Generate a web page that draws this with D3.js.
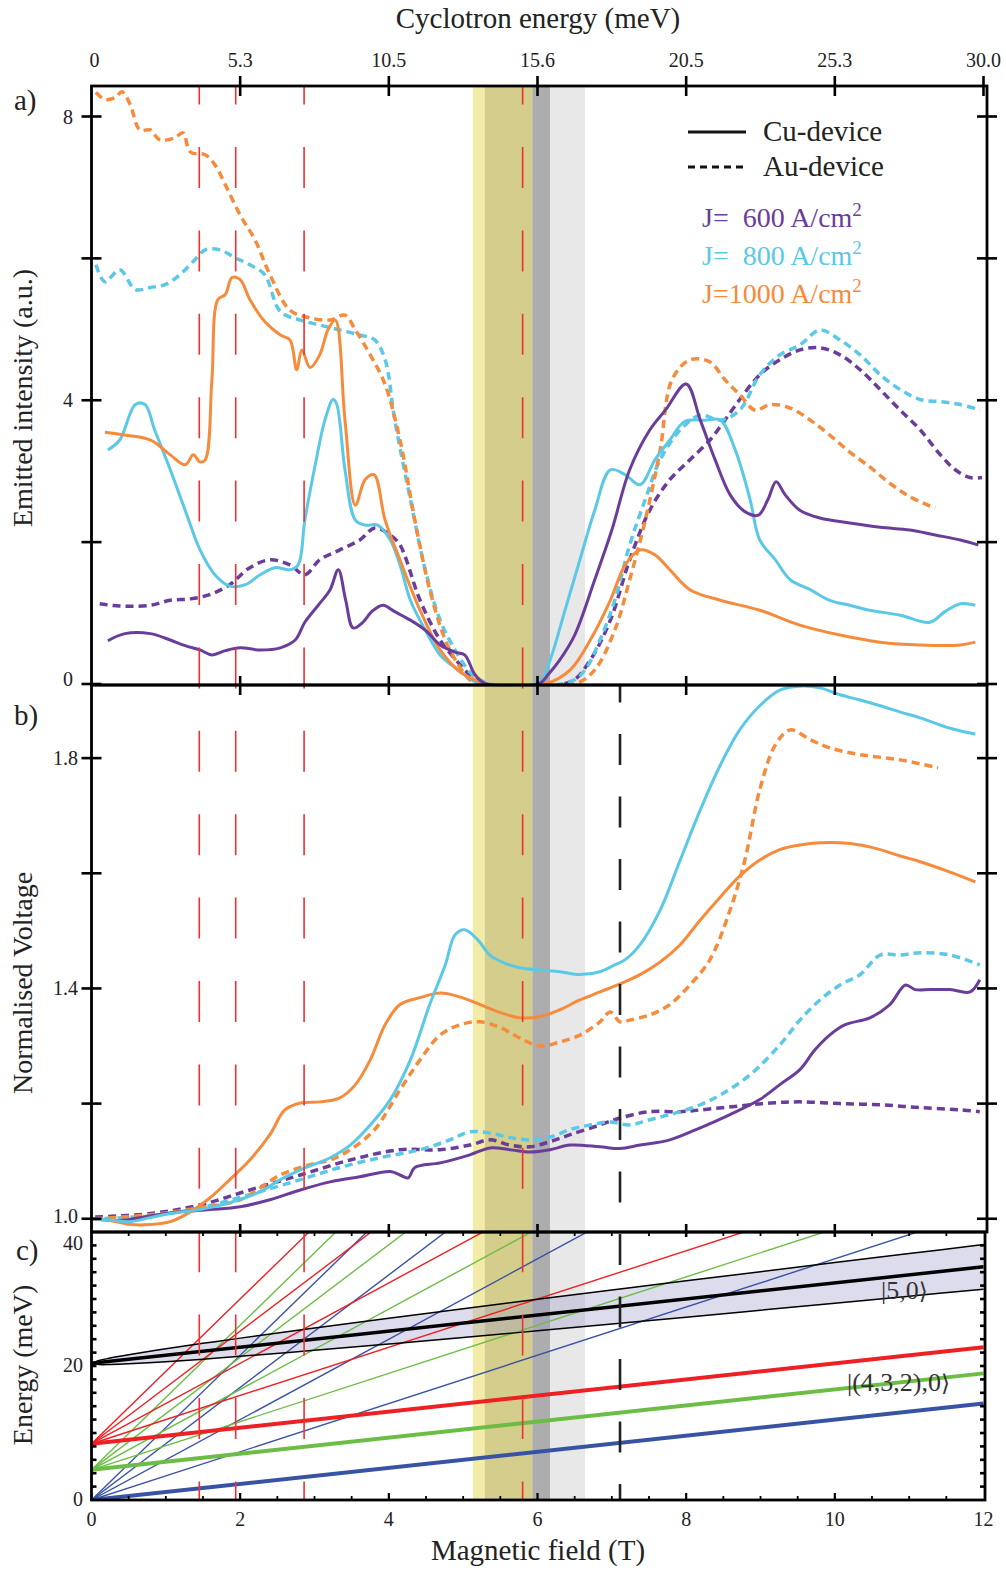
<!DOCTYPE html>
<html>
<head>
<meta charset="utf-8">
<script src="https://cdn.jsdelivr.net/npm/d3@7"></script>
<style>
body { margin: 0; background: #fff; }
text { font-family: "Liberation Serif", "Times New Roman", "DejaVu Serif", serif; fill: #222; }
</style>
</head>
<body>
<div id="chart"></div>
<script>
// ---- data (B in tesla) ----
// panel a: emitted intensity (a.u.)
var cu600_a = [[0.22,0.61],[0.45,0.71],[0.79,0.71],[1.06,0.62],[1.26,0.54],[1.46,0.48],[1.62,0.41],[1.80,0.47],[2.00,0.51],[2.27,0.48],[2.54,0.51],[2.74,0.62],[2.87,0.87],[3.05,1.11],[3.21,1.33],[3.32,1.61],[3.42,1.18],[3.52,0.79],[3.65,0.87],[3.77,1.02],[3.92,1.11],[4.08,1.02],[4.29,0.90],[4.49,0.76],[4.69,0.55],[4.89,0.45],[5.02,0.41],[5.16,0.13],[5.29,0.01],[6.03,0.01],[6.14,0.13],[6.30,0.34],[6.50,0.69],[6.77,1.47],[7.00,2.17],[7.24,3.02],[7.51,3.58],[7.72,3.86],[8.00,4.23],[8.19,3.72],[8.39,3.16],[8.59,2.67],[8.79,2.43],[8.97,2.38],[9.10,2.60],[9.21,2.85],[9.33,2.67],[9.53,2.45],[9.80,2.34],[10.20,2.27],[10.61,2.21],[11.01,2.17],[11.35,2.10],[11.69,2.03],[11.93,1.96]];
var au600_a = [[0.11,1.13],[0.38,1.10],[0.79,1.11],[1.06,1.18],[1.33,1.20],[1.59,1.26],[1.86,1.40],[2.13,1.64],[2.40,1.75],[2.67,1.68],[2.87,1.54],[3.07,1.75],[3.34,1.89],[3.61,2.03],[3.81,2.20],[4.02,2.10],[4.15,1.96],[4.42,1.18],[4.69,0.62],[4.96,0.27],[5.16,0.06],[5.29,0],[6.44,0.03],[6.71,0.34],[6.98,0.90],[7.24,1.75],[7.51,2.45],[7.78,2.88],[8.05,3.16],[8.32,3.44],[8.52,3.72],[8.72,4.01],[8.99,4.36],[9.26,4.57],[9.53,4.71],[9.80,4.74],[10.07,4.64],[10.34,4.43],[10.61,4.15],[10.88,3.86],[11.15,3.58],[11.42,3.23],[11.62,3.02],[11.82,2.91],[11.98,2.91]];
var cu800_a = [[0.22,3.30],[0.38,3.44],[0.59,3.94],[0.72,3.94],[0.85,3.58],[1.06,3.02],[1.26,2.45],[1.46,1.89],[1.66,1.54],[1.86,1.38],[2.07,1.40],[2.27,1.54],[2.47,1.64],[2.67,1.61],[2.78,1.68],[2.87,2.31],[3.01,3.09],[3.14,3.72],[3.25,4.01],[3.30,3.94],[3.41,3.02],[3.55,2.31],[3.68,2.24],[3.85,2.24],[4.02,2.03],[4.15,1.68],[4.29,1.18],[4.49,0.76],[4.69,0.41],[4.89,0.23],[5.09,0.08],[5.23,0],[6.03,0.03],[6.17,0.34],[6.37,1.04],[6.57,1.75],[6.77,2.45],[6.98,3.02],[7.18,2.95],[7.38,2.81],[7.58,3.16],[7.78,3.44],[7.98,3.70],[8.26,3.72],[8.46,3.72],[8.66,3.30],[8.86,2.60],[8.99,2.03],[9.20,1.75],[9.40,1.47],[9.67,1.33],[9.93,1.18],[10.20,1.11],[10.47,1.04],[10.88,0.97],[11.28,0.87],[11.48,1.02],[11.69,1.13],[11.89,1.11]];
var au800_a = [[0.06,5.91],[0.18,5.67],[0.38,5.84],[0.59,5.56],[0.79,5.59],[0.99,5.63],[1.19,5.77],[1.39,5.98],[1.53,6.12],[1.73,6.12],[1.93,6.01],[2.13,5.91],[2.33,5.77],[2.54,5.25],[2.81,5.13],[3.07,5.06],[3.34,4.99],[3.61,4.92],[3.81,4.85],[3.95,4.57],[4.08,3.72],[4.29,2.60],[4.49,1.61],[4.69,0.90],[4.89,0.48],[5.09,0.17],[5.23,0.06],[5.36,0],[6.44,0.03],[6.64,0.20],[6.84,0.62],[7.04,1.18],[7.24,1.96],[7.45,2.60],[7.65,3.16],[7.92,3.58],[8.19,3.79],[8.46,3.72],[8.72,3.86],[8.99,4.36],[9.26,4.64],[9.53,4.78],[9.80,4.99],[10.07,4.85],[10.34,4.64],[10.61,4.36],[10.88,4.15],[11.15,4.01],[11.42,3.98],[11.69,3.94],[11.95,3.86]];
var cu1000_a = [[0.18,3.55],[0.45,3.51],[0.79,3.44],[1.06,3.23],[1.26,3.09],[1.37,3.23],[1.46,3.13],[1.53,3.16],[1.62,4.29],[1.70,5.42],[1.80,5.49],[1.89,5.73],[2.00,5.70],[2.13,5.42],[2.33,5.11],[2.54,4.92],[2.67,4.85],[2.76,4.43],[2.83,4.71],[2.94,4.46],[3.07,4.64],[3.18,4.99],[3.28,5.13],[3.41,3.72],[3.55,2.52],[3.68,2.88],[3.80,2.95],[3.95,2.31],[4.15,1.75],[4.42,1.04],[4.69,0.48],[4.96,0.17],[5.16,0.06],[5.29,0],[6.10,0],[6.44,0.20],[6.71,0.62],[6.98,1.18],[7.18,1.68],[7.38,1.89],[7.58,1.82],[7.78,1.61],[8.05,1.33],[8.46,1.18],[8.99,1.04],[9.53,0.83],[10.07,0.69],[10.61,0.59],[11.15,0.55],[11.69,0.55],[11.89,0.59]];
var au1000_a = [[0.06,8.34],[0.18,8.24],[0.32,8.27],[0.41,8.35],[0.52,8.17],[0.65,7.81],[0.79,7.81],[0.92,7.67],[1.12,7.70],[1.23,7.77],[1.33,7.50],[1.53,7.46],[1.66,7.32],[1.80,7.04],[2.00,6.61],[2.20,6.26],[2.40,5.77],[2.67,5.27],[2.94,5.16],[3.21,5.13],[3.41,5.20],[3.55,4.99],[3.75,4.64],[3.95,4.22],[4.15,3.44],[4.35,2.31],[4.55,1.33],[4.76,0.62],[4.96,0.23],[5.09,0.06],[5.23,0],[6.50,0],[6.77,0.20],[7.04,0.76],[7.24,1.47],[7.45,2.31],[7.65,3.30],[7.81,4.29],[8.05,4.57],[8.32,4.54],[8.52,4.29],[8.72,4.08],[8.93,3.86],[9.13,3.94],[9.40,3.89],[9.67,3.72],[9.93,3.51],[10.20,3.27],[10.47,3.06],[10.74,2.83],[11.01,2.64],[11.35,2.48]];

// panel b: normalised voltage
var cu800_b = [[0,1.000],[0.25,0.998],[0.52,0.995],[0.79,1.002],[1.06,1.009],[1.46,1.016],[1.86,1.028],[2.27,1.047],[2.54,1.068],[2.81,1.085],[3.21,1.106],[3.48,1.128],[3.75,1.163],[4.02,1.207],[4.29,1.276],[4.55,1.372],[4.76,1.441],[4.89,1.493],[5.02,1.502],[5.20,1.484],[5.36,1.458],[5.56,1.444],[5.76,1.436],[6.03,1.432],[6.30,1.429],[6.57,1.424],[6.84,1.429],[7.04,1.441],[7.18,1.450],[7.38,1.476],[7.65,1.536],[7.92,1.623],[8.19,1.710],[8.46,1.788],[8.72,1.849],[8.99,1.891],[9.26,1.918],[9.53,1.925],[9.80,1.922],[10.07,1.910],[10.34,1.901],[10.61,1.891],[10.88,1.880],[11.15,1.870],[11.55,1.852],[11.89,1.842]];
var cu1000_b = [[0,1.000],[0.25,0.997],[0.52,0.990],[0.79,0.990],[1.06,0.995],[1.33,1.012],[1.59,1.036],[1.86,1.068],[2.13,1.102],[2.40,1.146],[2.60,1.189],[2.81,1.201],[3.07,1.203],[3.34,1.210],[3.55,1.233],[3.75,1.276],[3.95,1.337],[4.15,1.372],[4.42,1.384],[4.69,1.392],[4.96,1.385],[5.23,1.372],[5.50,1.358],[5.76,1.349],[6.03,1.351],[6.30,1.363],[6.57,1.380],[6.84,1.394],[7.11,1.408],[7.38,1.424],[7.65,1.446],[7.92,1.476],[8.19,1.519],[8.46,1.559],[8.72,1.595],[8.99,1.623],[9.26,1.641],[9.53,1.649],[9.80,1.653],[10.07,1.653],[10.34,1.649],[10.61,1.641],[10.88,1.630],[11.15,1.620],[11.55,1.602],[11.89,1.585]];
var au1000_b = [[0.05,1.000],[0.79,1.007],[1.46,1.019],[2.00,1.033],[2.54,1.076],[2.94,1.094],[3.21,1.102],[3.48,1.120],[3.81,1.155],[4.15,1.224],[4.42,1.276],[4.69,1.319],[4.96,1.337],[5.23,1.342],[5.50,1.332],[5.76,1.314],[6.03,1.300],[6.30,1.307],[6.57,1.319],[6.84,1.342],[6.98,1.359],[7.11,1.342],[7.24,1.345],[7.51,1.354],[7.78,1.372],[8.05,1.406],[8.32,1.450],[8.59,1.536],[8.79,1.623],[8.99,1.745],[9.20,1.823],[9.40,1.849],[9.67,1.832],[9.93,1.818],[10.34,1.806],[10.88,1.797],[11.39,1.783]];
var au800_b = [[0,1.000],[0.79,1.005],[1.46,1.019],[2.13,1.042],[2.81,1.068],[3.34,1.089],[3.88,1.106],[4.42,1.120],[4.82,1.137],[5.09,1.151],[5.36,1.149],[5.63,1.141],[5.90,1.137],[6.17,1.142],[6.44,1.155],[6.71,1.163],[6.98,1.168],[7.24,1.163],[7.51,1.172],[7.92,1.186],[8.19,1.198],[8.46,1.215],[8.86,1.250],[9.26,1.302],[9.53,1.345],[9.80,1.380],[10.07,1.406],[10.34,1.424],[10.61,1.458],[10.88,1.458],[11.15,1.462],[11.55,1.458],[11.95,1.441]];
var au600_b = [[0.05,1.003],[0.79,1.009],[1.46,1.024],[2.13,1.050],[2.81,1.076],[3.48,1.102],[4.15,1.120],[4.69,1.120],[5.09,1.128],[5.36,1.137],[5.63,1.128],[5.90,1.125],[6.17,1.134],[6.44,1.146],[6.84,1.163],[7.11,1.175],[7.51,1.186],[7.92,1.186],[8.19,1.189],[8.72,1.196],[9.13,1.201],[9.53,1.203],[10.07,1.200],[10.61,1.198],[11.15,1.193],[11.69,1.189],[11.95,1.186]];
var cu600_b = [[0,1.000],[0.38,0.997],[0.79,1.005],[1.19,1.012],[1.59,1.016],[2.00,1.021],[2.40,1.033],[2.81,1.050],[3.21,1.064],[3.61,1.073],[4.02,1.082],[4.15,1.076],[4.26,1.071],[4.35,1.089],[4.69,1.097],[5.09,1.111],[5.36,1.123],[5.63,1.120],[5.90,1.116],[6.17,1.120],[6.44,1.128],[6.84,1.125],[7.11,1.122],[7.38,1.128],[7.78,1.137],[8.19,1.158],[8.59,1.181],[8.99,1.207],[9.26,1.233],[9.53,1.259],[9.73,1.293],[9.93,1.319],[10.14,1.337],[10.47,1.349],[10.74,1.372],[10.95,1.406],[11.08,1.398],[11.28,1.398],[11.55,1.398],[11.82,1.394],[11.95,1.415]];

// panel c: level fan (meV)
var levelOrigins = [0, 4.5, 8.4];          // blue, green, red
var fanSlopes = [3.6, 6.0, 8.4, 10.8];      // meV/T
var baseSlope = 1.2;
var level50 = 20.4;
var bandB =     [0, 0.1, 0.25, 0.5, 1, 1.5, 2, 3, 4, 5, 6, 7, 8, 9, 10, 11, 12];
var bandUpper = [20.4, 20.82, 21.18, 21.68, 22.56, 23.38, 24.16, 25.66, 27.12, 28.55, 29.95, 31.34, 32.72, 34.08, 35.44, 36.78, 38.13];
var bandLower = [20.4, 20.22, 20.22, 20.32, 20.64, 21.02, 21.44, 22.34, 23.28, 24.25, 25.25, 26.26, 27.28, 28.32, 29.36, 30.42, 31.47];

// shaded field ranges and marker lines
var shades = [[5.13, 5.29, "#f2eca8"], [5.29, 5.93, "#d4cd8b"], [5.93, 6.17, "#adadad"], [6.17, 6.64, "#e8e8e8"]];
var redMarks = [1.45, 1.94, 2.86, 5.80];
var blackMark = 7.11;

// tick labels
var cycPos = [0, 2, 4, 6, 8, 10, 12];
var cycLabels = ["0", "5.3", "10.5", "15.6", "20.5", "25.3", "30.0"];

var purple = "#6a3d9a", cyan = "#5bc8e6", orange = "#f68b3c";
var cBlue = "#3953a4", cGreen = "#6cbd45", cRed = "#ed2024";

var W = 1006, H = 1571;
var svg = d3.select("#chart").append("svg").attr("width", W).attr("height", H);

var x = d3.scaleLinear().domain([0, 12]).range([91.5, 983.5]);
var ya = d3.scaleLinear().domain([0, 8.43]).range([684, 86]);
var yb = d3.scaleLinear().domain([0.977, 1.927]).range([1232, 685]);
var yc = d3.scaleLinear().domain([0, 40]).range([1500, 1232]);
var xl = 91.5, xr = 987;
var topA = 86, botA = 685, botB = 1232, botC = 1500;

// clip paths
var defs = svg.append("defs");
[["clipA", topA, botA], ["clipB", botA, botB], ["clipC", botB, botC]].forEach(function(c) {
  defs.append("clipPath").attr("id", c[0]).append("rect")
    .attr("x", xl).attr("y", c[1]).attr("width", xr - xl).attr("height", c[2] - c[1]);
});

// vertical shaded bands
svg.selectAll(".shade").data(shades).enter().append("rect")
  .attr("x", function(d) { return x(d[0]); })
  .attr("width", function(d) { return x(d[1]) - x(d[0]); })
  .attr("y", topA).attr("height", botC - topA)
  .attr("fill", function(d) { return d[2]; });

// ---- panel c ----
var gc = svg.append("g").attr("clip-path", "url(#clipC)");

var band = d3.area()
  .x(function(d, i) { return x(bandB[i]); })
  .y0(function(d, i) { return yc(bandLower[i]); })
  .y1(function(d, i) { return yc(bandUpper[i]); })
  .curve(d3.curveCatmullRom);
gc.append("path").datum(bandB).attr("d", band)
  .attr("fill", "#9a9ac8").attr("fill-opacity", 0.35);

var fanColors = [cBlue, cGreen, cRed];
levelOrigins.forEach(function(e0, k) {
  fanSlopes.forEach(function(s) {
    gc.append("line")
      .attr("x1", x(0)).attr("y1", yc(e0))
      .attr("x2", x(12)).attr("y2", yc(e0 + s * 12))
      .attr("stroke", fanColors[k]).attr("stroke-width", 1.4);
  });
});

var edge = function(arr) {
  return d3.line().x(function(d, i) { return x(bandB[i]); })
    .y(function(d, i) { return yc(arr[i]); }).curve(d3.curveCatmullRom);
};
gc.append("path").datum(bandB).attr("d", edge(bandUpper)).attr("fill", "none").attr("stroke", "#000").attr("stroke-width", 1.5);
gc.append("path").datum(bandB).attr("d", edge(bandLower)).attr("fill", "none").attr("stroke", "#000").attr("stroke-width", 1.5);

levelOrigins.forEach(function(e0, k) {
  gc.append("line")
    .attr("x1", x(0)).attr("y1", yc(e0))
    .attr("x2", x(12)).attr("y2", yc(e0 + baseSlope * 12))
    .attr("stroke", fanColors[k]).attr("stroke-width", 4);
});
gc.append("line")
  .attr("x1", x(0)).attr("y1", yc(level50))
  .attr("x2", x(12)).attr("y2", yc(level50 + baseSlope * 12))
  .attr("stroke", "#000").attr("stroke-width", 3.5);

function ketLabel(xp, yp, body) {
  var t = svg.append("text").attr("x", xp).attr("y", yp).attr("font-size", 26).style("fill", "#333").text(body);
  t.append("tspan").style("font-family", "'DejaVu Serif', 'DejaVu Sans'").attr("font-size", 23).text("\u27E9");
}
ketLabel(881, 1299, "|5,0");
ketLabel(847, 1391, "|(4,3,2),0");

// ---- curves ----
function drawSeries(clip, yScale, data, color, dashed) {
  var line = d3.line()
    .x(function(d) { return x(d[0]); })
    .y(function(d) { return yScale(d[1]); })
    .curve(d3.curveCatmullRom);
  svg.append("path").datum(data)
    .attr("clip-path", "url(#" + clip + ")")
    .attr("d", line)
    .attr("fill", "none")
    .attr("stroke", color)
    .attr("stroke-width", dashed ? 3.5 : 3)
    .attr("stroke-dasharray", dashed ? "8,5" : null)
    .attr("stroke-linejoin", "round");
}
drawSeries("clipA", ya, au600_a, purple, true);
drawSeries("clipA", ya, au800_a, cyan, true);
drawSeries("clipA", ya, au1000_a, orange, true);
drawSeries("clipA", ya, cu800_a, cyan, false);
drawSeries("clipA", ya, cu1000_a, orange, false);
drawSeries("clipA", ya, cu600_a, purple, false);

drawSeries("clipB", yb, au600_b, purple, true);
drawSeries("clipB", yb, au800_b, cyan, true);
drawSeries("clipB", yb, au1000_b, orange, true);
drawSeries("clipB", yb, cu600_b, purple, false);
drawSeries("clipB", yb, cu1000_b, orange, false);
drawSeries("clipB", yb, cu800_b, cyan, false);

// marker lines
svg.selectAll(".redmark").data(redMarks).enter().append("line")
  .attr("x1", function(d) { return x(d); }).attr("x2", function(d) { return x(d); })
  .attr("y1", topA).attr("y2", botC)
  .attr("stroke", "#ee3030").attr("stroke-width", 1.6)
  .attr("stroke-dasharray", "41,42.4").attr("stroke-dashoffset", 22.4);
svg.append("line")
  .attr("x1", x(blackMark)).attr("x2", x(blackMark))
  .attr("y1", botA).attr("y2", botC)
  .attr("stroke", "#222").attr("stroke-width", 2.6)
  .attr("stroke-dasharray", "31,31.5").attr("stroke-dashoffset", 13.5);

// ---- frames and ticks ----
var frame = svg.append("g").attr("fill", "none").attr("stroke", "#000").attr("stroke-width", 2.8);
frame.append("rect").attr("x", xl).attr("y", topA).attr("width", xr - xl).attr("height", botA - topA);
frame.append("rect").attr("x", xl).attr("y", botA).attr("width", xr - xl).attr("height", botB - botA);
frame.append("rect").attr("x", xl).attr("y", botB).attr("width", xr - 2 - xl).attr("height", botC - botB);

var tk = svg.append("g").attr("stroke", "#000").attr("stroke-width", 2.6);
function hTicks(vals, scale, x1, x2) {
  tk.selectAll(null).data(vals).enter().append("line")
    .attr("x1", x1).attr("x2", x2)
    .attr("y1", function(d) { return scale(d); }).attr("y2", function(d) { return scale(d); });
}
function vTicks(vals, y1, y2, w) {
  tk.selectAll(null).data(vals).enter().append("line")
    .attr("y1", y1).attr("y2", y2).attr("stroke-width", w || 2.6)
    .attr("x1", function(d) { return x(d); }).attr("x2", function(d) { return x(d); });
}
hTicks([0, 2, 4, 6, 8], ya, xl - 10, xl + 10);
hTicks([0, 2, 4, 6, 8], ya, xr - 10, xr + 10);
hTicks([1.0, 1.2, 1.4, 1.6, 1.8], yb, xl - 10, xl + 10);
hTicks([1.0, 1.2, 1.4, 1.6, 1.8], yb, xr - 10, xr + 10);
var eTicks = d3.range(2, 40, 2);
hTicks(eTicks, yc, xl, xl + 5);
hTicks(eTicks, yc, xr - 7, xr - 2);
vTicks([2, 4, 6, 8, 10, 12], topA - 10, topA + 10);
vTicks([2, 4, 6, 8, 10], botA - 9, botA + 10);
vTicks([2, 4, 6, 8, 10], botB - 8, botB + 5);
var minorB = d3.range(0.5, 12, 0.5).filter(function(d) { return d % 2 !== 0; });
vTicks(minorB, botB, botB + 4, 1.8);
vTicks(minorB, botC - 4, botC, 1.8);
vTicks([2, 4, 6, 8, 10], botC - 7, botC, 2.2);

// ---- tick labels ----
var lab = svg.append("g").attr("font-size", 20);
lab.selectAll(null).data(cycPos).enter().append("text")
  .attr("x", function(d) { return x(d) + (d === 0 ? 3 : 0); }).attr("y", 67)
  .attr("text-anchor", "middle")
  .text(function(d, i) { return cycLabels[i]; });
lab.selectAll(null).data([0, 4, 8]).enter().append("text")
  .attr("x", 73).attr("y", function(d) { return ya(d) + (d === 0 ? 2 : 7); })
  .attr("text-anchor", "end").text(function(d) { return d; });
lab.selectAll(null).data([1.0, 1.4, 1.8]).enter().append("text")
  .attr("x", 78).attr("y", function(d) { return yb(d) + (d === 1.0 ? 4 : 7); })
  .attr("text-anchor", "end").text(function(d) { return d.toFixed(1); });
lab.selectAll(null).data([0, 20, 40]).enter().append("text")
  .attr("x", 83).attr("y", function(d) { return d === 40 ? yc(d) + 18 : yc(d) + 6; })
  .attr("text-anchor", "end").text(function(d) { return d; });
lab.selectAll(null).data([0, 2, 4, 6, 8, 10, 12]).enter().append("text")
  .attr("x", function(d) { return x(d); }).attr("y", 1526)
  .attr("text-anchor", "middle").text(function(d) { return d; });

// ---- titles ----
svg.append("text").attr("x", 538).attr("y", 28).attr("font-size", 29).attr("text-anchor", "middle").text("Cyclotron energy (meV)");
svg.append("text").attr("x", 538).attr("y", 1560).attr("font-size", 29).attr("text-anchor", "middle").text("Magnetic field (T)");
function yTitle(txt, cy) {
  svg.append("text").attr("transform", "translate(32," + cy + ") rotate(-90)")
    .attr("font-size", 28).attr("text-anchor", "middle").text(txt);
}
yTitle("Emitted intensity (a.u.)", 398);
yTitle("Normalised Voltage", 983);
yTitle("Energy (meV)", 1365);
svg.append("text").attr("x", 14).attr("y", 110).attr("font-size", 29).text("a)");
svg.append("text").attr("x", 14).attr("y", 725).attr("font-size", 29).text("b)");
svg.append("text").attr("x", 16).attr("y", 1260).attr("font-size", 29).text("c)");

// ---- legend ----
svg.append("line").attr("x1", 688).attr("x2", 746).attr("y1", 132).attr("y2", 132).attr("stroke", "#111").attr("stroke-width", 3);
svg.append("line").attr("x1", 688).attr("x2", 746).attr("y1", 167).attr("y2", 167).attr("stroke", "#111").attr("stroke-width", 3).attr("stroke-dasharray", "7,5");
svg.append("text").attr("x", 763).attr("y", 141).attr("font-size", 29).text("Cu-device");
svg.append("text").attr("x", 763).attr("y", 176).attr("font-size", 29).text("Au-device");
var jLab = [["J=  600 A/cm", purple, 227], ["J=  800 A/cm", cyan, 265], ["J=1000 A/cm", orange, 303]];
jLab.forEach(function(j) {
  var t = svg.append("text").attr("x", 702).attr("y", j[2]).attr("font-size", 28)
    .style("fill", j[1]).style("white-space", "pre").text(j[0]);
  t.append("tspan").attr("dy", -11).attr("font-size", 19).text("2");
});
</script>
</body>
</html>
